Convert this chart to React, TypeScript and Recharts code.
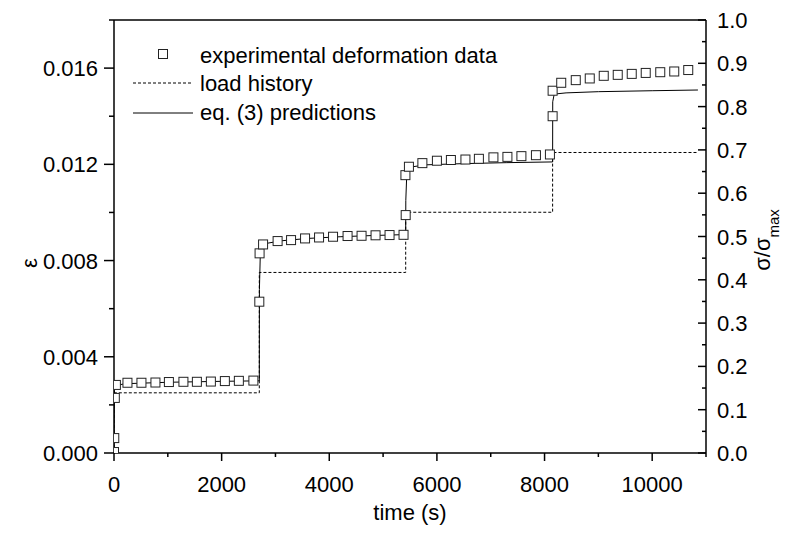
import { ComposedChart, Line, Scatter, XAxis, YAxis, ReferenceLine } from "recharts";

const FONT = "'Liberation Sans', Arial, Helvetica, sans-serif";

// experimental creep data (time in s, strain)
const expT = [
  0, 5, 15, 35, 250, 510, 770, 1020, 1290, 1540, 1800, 2060, 2320, 2590,
  2700, 2705, 2770, 3040, 3290, 3550, 3810, 4070, 4340, 4600, 4860, 5120, 5380,
  5420, 5415, 5480, 5730, 6000, 6260, 6530, 6780, 7050, 7310, 7570, 7840, 8100,
  8150, 8150, 8310, 8580, 8840, 9100, 9360, 9620, 9880, 10150, 10410, 10670,
];
const expE = [
  0.00004, 0.00062, 0.00229, 0.00283, 0.00292, 0.00292, 0.00293, 0.00295, 0.00296, 0.00296, 0.00297, 0.00299, 0.003, 0.00301,
  0.00629, 0.0083, 0.00867, 0.00881, 0.00885, 0.00892, 0.00896, 0.00899, 0.00902, 0.00903, 0.00905, 0.00906, 0.00907,
  0.00989, 0.01155, 0.0119, 0.01205, 0.01215, 0.01218, 0.0122, 0.01223, 0.01229, 0.01231, 0.01234, 0.01238, 0.01241,
  0.014, 0.01506, 0.01539, 0.0155, 0.01557, 0.01568, 0.01572, 0.01576, 0.0158, 0.01583, 0.01586, 0.01592,
];

// eq. (3) model curve
const predT = [
  0, 3, 10, 30, 200, 1000, 2000, 2700,
  2702, 2720, 2800, 3100, 3600, 4200, 4800, 5420,
  5422, 5440, 5550, 5800, 6500, 7300, 8150,
  8152, 8180, 8400, 9000, 10000, 10850,
];
const predE = [
  0, 0.0015, 0.0026, 0.0028, 0.00288, 0.00294, 0.00298, 0.003,
  0.0068, 0.0084, 0.0087, 0.00882, 0.00892, 0.00899, 0.00904, 0.00908,
  0.0105, 0.0116, 0.0119, 0.01198, 0.01203, 0.01207, 0.0121,
  0.0146, 0.01492, 0.01497, 0.01502, 0.01506, 0.01509,
];

// load history, sigma / sigma_max
const loadT = [0, 0, 2700, 2700, 5420, 5420, 8150, 8150, 10850];
const loadS = [0, 0.139, 0.139, 0.417, 0.417, 0.556, 0.556, 0.694, 0.694];

const xTicks = [0, 1000, 2000, 3000, 4000, 5000, 6000, 7000, 8000, 9000, 10000, 11000];
const leftTicks = [0, 0.002, 0.004, 0.006, 0.008, 0.01, 0.012, 0.014, 0.016, 0.018];
const rightTicks = [
  0, 0.05, 0.1, 0.15, 0.2, 0.25, 0.3, 0.35, 0.4, 0.45, 0.5,
  0.55, 0.6, 0.65, 0.7, 0.75, 0.8, 0.85, 0.9, 0.95, 1,
];

const expData = expT.map((t, i) => ({ t, e: expE[i] }));
const predData = predT.map((t, i) => ({ t, e: predE[i] }));
const loadData = loadT.map((t, i) => ({ t, s: loadS[i] }));

const XTick = ({ x, y, payload }: any) => {
  const major = payload.value % 2000 === 0;
  return (
    <g>
      <line x1={x} y1={y} x2={x} y2={y + (major ? 8 : 4)} stroke="#000" strokeWidth={1.5} />
      {major && (
        <text x={x} y={y + 39} textAnchor="middle" fontSize={22} fontFamily={FONT} fill="#000">
          {payload.value}
        </text>
      )}
    </g>
  );
};

const LeftTick = ({ x, y, payload }: any) => {
  const major = Math.round(payload.value / 0.002) % 2 === 0;
  return (
    <g>
      <line x1={x} y1={y} x2={x - (major ? 10 : 5)} y2={y} stroke="#000" strokeWidth={1.5} />
      {major && (
        <text x={x - 16} y={y + 8} textAnchor="end" fontSize={22} fontFamily={FONT} fill="#000">
          {payload.value.toFixed(3)}
        </text>
      )}
    </g>
  );
};

const RightTick = ({ x, y, payload }: any) => {
  const major = Math.round(payload.value * 20) % 2 === 0;
  return (
    <g>
      <line x1={x} y1={y} x2={x - (major ? 8 : 4)} y2={y} stroke="#000" strokeWidth={1.5} />
      {major && (
        <text x={x + 11} y={y + 8} textAnchor="start" fontSize={22} fontFamily={FONT} fill="#000">
          {payload.value.toFixed(1)}
        </text>
      )}
    </g>
  );
};

const Square = (props: any) => {
  const { cx, cy } = props;
  if (cx == null || cy == null) return null;
  return <rect x={cx - 4.5} y={cy - 4.5} width={9} height={9} fill="#fff" stroke="#222" strokeWidth={1} />;
};

export default function App() {
  return (
    <div style={{ position: "absolute", left: 0, top: 0, width: 785, height: 533, background: "#fff" }}>
      <ComposedChart width={785} height={533} margin={{ top: 20, right: 0, bottom: 0, left: 0 }}>
        <XAxis
          dataKey="t"
          type="number"
          domain={[0, 11000]}
          ticks={xTicks}
          interval={0}
          allowDataOverflow
          height={80}
          tickSize={0}
          tickMargin={0}
          tickLine={false}
          tick={<XTick />}
          axisLine={{ stroke: "#000", strokeWidth: 1.5 }}
        />
        <YAxis
          yAxisId="left"
          type="number"
          domain={[0, 0.018]}
          ticks={leftTicks}
          interval={0}
          allowDataOverflow
          width={114}
          tickSize={0}
          tickMargin={0}
          tickLine={false}
          tick={<LeftTick />}
          axisLine={{ stroke: "#000", strokeWidth: 1.5 }}
        />
        <YAxis
          yAxisId="right"
          orientation="right"
          type="number"
          domain={[0, 1]}
          ticks={rightTicks}
          interval={0}
          allowDataOverflow
          width={79}
          tickSize={0}
          tickMargin={0}
          tickLine={false}
          tick={<RightTick />}
          axisLine={{ stroke: "#000", strokeWidth: 1.5 }}
        />
        <ReferenceLine yAxisId="left" y={0.018} stroke="#000" strokeWidth={1.5} />
        <Line
          yAxisId="right"
          data={loadData}
          dataKey="s"
          type="linear"
          stroke="#000"
          strokeWidth={1}
          strokeDasharray="3 2"
          dot={false}
          isAnimationActive={false}
        />
        <Line
          yAxisId="left"
          data={predData}
          dataKey="e"
          type="linear"
          stroke="#000"
          strokeWidth={1}
          dot={false}
          isAnimationActive={false}
        />
        <Scatter
          yAxisId="left"
          data={expData}
          dataKey="e"
          shape={<Square />}
          isAnimationActive={false}
        />
      </ComposedChart>

      {/* legend + axis titles */}
      <svg
        width={785}
        height={533}
        style={{ position: "absolute", left: 0, top: 0, pointerEvents: "none" }}
        fontFamily={FONT}
        fontSize={22}
      >
        <rect x={158.5} y={49.5} width={9} height={9} fill="#fff" stroke="#222" />
        <text x={200} y={63}>experimental deformation data</text>
        <line x1={133} y1={83} x2={191} y2={83} stroke="#000" strokeDasharray="3 2" />
        <text x={200} y={91}>load history</text>
        <line x1={133} y1={113} x2={193} y2={113} stroke="#000" />
        <text x={200} y={120}>eq. (3) predictions</text>

        <text x={410} y={520} textAnchor="middle">time (s)</text>
        <text x={37} y={263} textAnchor="middle" transform="rotate(-90 37 263)">ε</text>
        <text x={770} y={240} textAnchor="middle" transform="rotate(-90 770 240)">
          σ/σ
          <tspan fontSize={15} dy={9}>max</tspan>
        </text>
      </svg>
    </div>
  );
}
